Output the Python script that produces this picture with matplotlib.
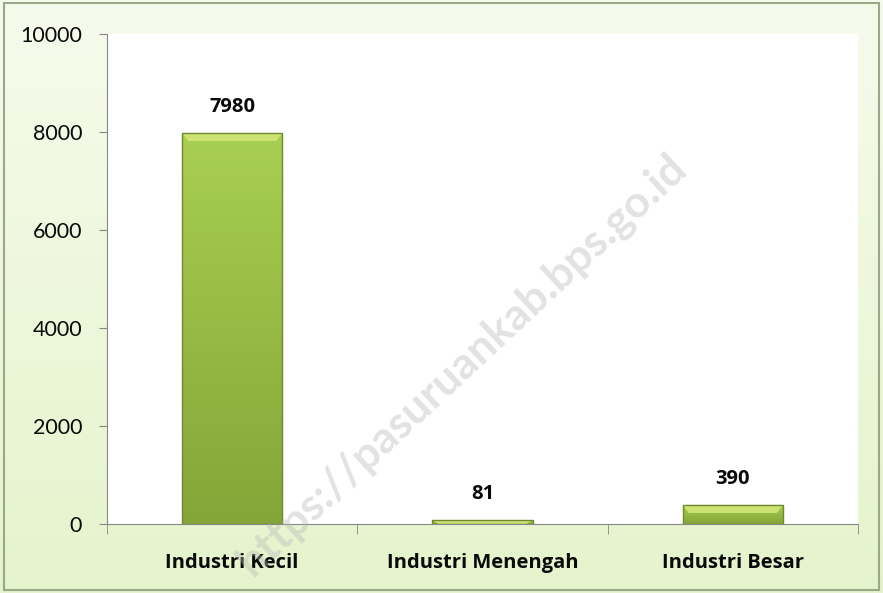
"""
Jumlah industri menurut skala usaha — bar chart recreated with matplotlib.
"""

import matplotlib
matplotlib.use("Agg")
import matplotlib.pyplot as plt
import numpy as np
from matplotlib.patches import Polygon, Rectangle

# ---------------------------------------------------------------------------
# Data
# ---------------------------------------------------------------------------

categories = ["Industri Kecil", "Industri Menengah", "Industri Besar"]
values     = [7980, 81, 390]
y_ticks    = [0, 2000, 4000, 6000, 8000, 10000]

WATERMARK = "https://pasuruankab.bps.go.id"

# ---------------------------------------------------------------------------
# Style
# ---------------------------------------------------------------------------

plt.rcParams["font.family"] = ["Lato", "DejaVu Sans"]
_BOLD_FONT = ["Open Sans", "DejaVu Sans"]

_BG_TOP     = np.array([0.965, 0.985, 0.925])
_BG_BOTTOM  = np.array([0.900, 0.955, 0.800])
_BAR_TOP    = np.array([0.66, 0.81, 0.32])
_BAR_BOTTOM = np.array([0.52, 0.65, 0.22])
_BEVEL      = (0.80, 0.89, 0.45)
_BAR_EDGE   = "#70892c"


def gradient_bar(ax, x, height, width):
    """Bar with top-to-bottom green shading and a bevelled top."""
    left = x - width / 2
    rect = Rectangle((left, 0), width, height, facecolor="none",
                     edgecolor=_BAR_EDGE, linewidth=1.0, zorder=3)
    ax.add_patch(rect)
    t = np.linspace(0, 1, 64)
    img = _BAR_TOP + (_BAR_BOTTOM - _BAR_TOP) * t[:, None]
    im = ax.imshow(img[:, None, :], extent=(left, left + width, 0, height),
                   aspect="auto", zorder=2, interpolation="bilinear")
    im.set_clip_path(rect)
    # bevel trapezoid along the top edge (about 8 px tall)
    cap = min(height, 165)
    inset = 0.024
    ax.add_patch(Polygon([(left, height), (left + width, height),
                          (left + width - inset, height - cap),
                          (left + inset, height - cap)],
                         closed=True, facecolor=_BEVEL, edgecolor="none",
                         zorder=2.5))


fig = plt.figure(figsize=(8.83, 5.93), dpi=100)

# figure background gradient
bg = fig.add_axes([0, 0, 1, 1], zorder=-10)
grad = np.linspace(0, 1, 256)[:, None]
bg.imshow(_BG_TOP + (_BG_BOTTOM - _BG_TOP) * grad[:, :, None],
          aspect="auto", extent=(0, 1, 0, 1), origin="upper")
bg.add_patch(Rectangle((0.004, 0.005), 0.992, 0.99, fill=False,
                       edgecolor="#9aa88a", linewidth=1.5,
                       transform=bg.transAxes))
bg.set_axis_off()

ax = fig.add_axes([107 / 883, 1 - 524 / 593, 751 / 883, 490 / 593])
ax.set_facecolor("white")

x = np.arange(len(categories))
for xi, v in zip(x, values):
    gradient_bar(ax, xi, v, 0.4)
    ax.text(xi, v + 330, f"{v}", ha="center", va="bottom",
            fontsize=14.5, fontweight="bold", color="#0a0a0a", zorder=4,
            family=_BOLD_FONT)

ax.set_xlim(-0.5, len(categories) - 0.5)
ax.set_ylim(0, 10000)
ax.set_yticks(y_ticks)
ax.set_yticklabels([str(t) for t in y_ticks], fontsize=15.5, color="#0a0a0a")
ax.set_xticks(x)
ax.set_xticklabels(categories, fontsize=14.5, fontweight="bold",
                   color="#0a0a0a", family=_BOLD_FONT)
ax.tick_params(axis="x", length=0, pad=21)
ax.tick_params(axis="y", length=6, color="#888888", pad=12)

# category separator ticks on the x axis
ax.set_xticks(np.arange(len(categories) + 1) - 0.5, minor=True)
ax.tick_params(axis="x", which="minor", length=7, color="#888888")

for side in ("top", "right"):
    ax.spines[side].set_visible(False)
for side in ("left", "bottom"):
    ax.spines[side].set_color("#888888")

fig.text(0.523, 0.385, WATERMARK, rotation=43, ha="center", va="center",
         fontsize=32, fontweight="bold", color="#b8b8b8", alpha=0.4,
         zorder=20)

fig.savefig("out.png", dpi=100)
